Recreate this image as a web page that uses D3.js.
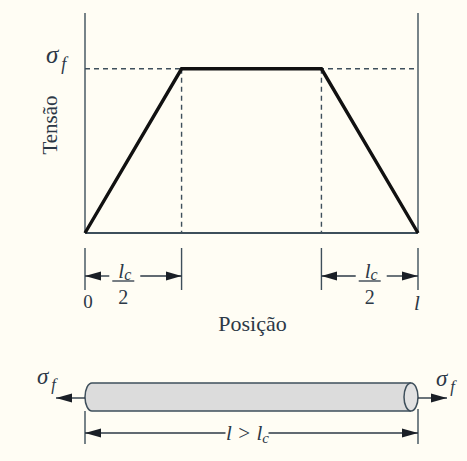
<!DOCTYPE html>
<html>
<head>
<meta charset="utf-8">
<script src="https://cdn.jsdelivr.net/npm/d3@7"></script>
<style>
  body { margin: 0; background: #fffdf4; }
  svg { display: block; }
</style>
</head>
<body>
<svg id="chart" width="467" height="461"></svg>
<script>
// stress profile along a fibre with l > lc (position as fraction of l)
const positions = [0, 0.29, 0.71, 1];
const stress = [0, 1, 1, 0];
const yMax = 1.34;
const endLabels = ["0", "l"];

const axisColor = "#3e4f5b";
const ink = "#2c3846";
const serif = "'Liberation Serif', 'Times New Roman', Times, 'DejaVu Serif', serif";

const svg = d3.select("#chart")
    .attr("font-family", serif)
    .attr("fill", ink);

const x = d3.scaleLinear().domain([0, 1]).range([85, 418]);
const y = d3.scaleLinear().domain([0, yMax]).range([233, 13]);

// arrow head
const defs = svg.append("defs");
defs.append("marker")
    .attr("id", "arrow")
    .attr("markerUnits", "userSpaceOnUse")
    .attr("viewBox", "0 -5 16 10")
    .attr("refX", 16).attr("refY", 0)
    .attr("markerWidth", 16).attr("markerHeight", 10)
    .attr("orient", "auto")
    .append("path")
    .attr("d", "M0,-4.5L16,0L0,4.5Z")
    .attr("fill", "#1a1f26");

// frame: two verticals + baseline
svg.append("line").attr("x1", x(0)).attr("x2", x(0)).attr("y1", y(yMax)).attr("y2", y(0))
    .attr("stroke", axisColor).attr("stroke-width", 1.4);
svg.append("line").attr("x1", x(1)).attr("x2", x(1)).attr("y1", y(yMax)).attr("y2", y(0))
    .attr("stroke", axisColor).attr("stroke-width", 1.4);
svg.append("line").attr("x1", x(0)).attr("x2", x(1)).attr("y1", y(0)).attr("y2", y(0))
    .attr("stroke", axisColor).attr("stroke-width", 2);

// dashed guides
svg.append("line").attr("x1", x(0)).attr("x2", x(1)).attr("y1", y(1)).attr("y2", y(1))
    .attr("stroke", axisColor).attr("stroke-width", 1.4).attr("stroke-dasharray", "5,4");
[positions[1], positions[2]].forEach(p => {
    svg.append("line").attr("x1", x(p)).attr("x2", x(p)).attr("y1", y(1)).attr("y2", y(0))
        .attr("stroke", axisColor).attr("stroke-width", 1.4).attr("stroke-dasharray", "5,4");
});

// the stress curve
const line = d3.line().x((d, i) => x(positions[i])).y(d => y(d));
svg.append("path")
    .attr("d", line(stress))
    .attr("fill", "none")
    .attr("stroke", "#111")
    .attr("stroke-width", 3.4)
    .attr("stroke-linejoin", "miter");

// sigma_f label
function sigmaF(xp, yp, size) {
    const t = svg.append("text").attr("x", xp).attr("y", yp)
        .attr("font-style", "italic").attr("font-size", size);
    t.append("tspan").text("σ");
    t.append("tspan").attr("dx", 3).attr("dy", size * 0.28).attr("font-size", size * 0.72).text("f");
}
sigmaF(46, 63, 25);

// y title
svg.append("text")
    .attr("transform", `translate(57,${(y(0) + y(yMax)) / 2 + 2}) rotate(-90)`)
    .attr("text-anchor", "middle")
    .attr("font-size", 21)
    .text("Tensão");

// dimension ticks and lc/2 arrows
const tickTop = 248, tickBot = 290, arrowY = 276;
positions.forEach(p => {
    svg.append("line").attr("x1", x(p)).attr("x2", x(p)).attr("y1", tickTop).attr("y2", tickBot)
        .attr("stroke", axisColor).attr("stroke-width", 1.4);
});

function lcHalf(a, b) {
    const cx = (x(a) + x(b)) / 2 + (a === 0 ? -10 : 0);
    svg.append("line").attr("x1", cx - 14).attr("x2", x(a)).attr("y1", arrowY).attr("y2", arrowY)
        .attr("stroke", ink).attr("stroke-width", 1.4).attr("marker-end", "url(#arrow)");
    svg.append("line").attr("x1", cx + 17).attr("x2", x(b)).attr("y1", arrowY).attr("y2", arrowY)
        .attr("stroke", ink).attr("stroke-width", 1.4).attr("marker-end", "url(#arrow)");
    const t = svg.append("text").attr("x", cx - 5).attr("y", 278)
        .attr("font-style", "italic").attr("font-size", 21);
    t.append("tspan").text("l");
    t.append("tspan").attr("dy", 2).attr("font-size", 16).text("c");
    svg.append("line").attr("x1", cx - 11).attr("x2", cx + 11).attr("y1", 281).attr("y2", 281)
        .attr("stroke", ink).attr("stroke-width", 1.3);
    svg.append("text").attr("x", cx).attr("y", 304).attr("text-anchor", "middle")
        .attr("font-size", 20).text("2");
}
lcHalf(positions[0], positions[1]);
lcHalf(positions[2], positions[3]);

// end labels 0 and l
svg.append("text").attr("x", x(0) + 3).attr("y", 308).attr("text-anchor", "middle")
    .attr("font-size", 19).text(endLabels[0]);
svg.append("text").attr("x", x(1) - 1).attr("y", 310).attr("text-anchor", "middle")
    .attr("font-style", "italic").attr("font-size", 21).text(endLabels[1]);

// x title
svg.append("text").attr("x", (x(0) + x(1)) / 2 + 1).attr("y", 331).attr("text-anchor", "middle")
    .attr("font-size", 22).text("Posição");

// fibre under tension
const cy = 397, ry = 14, rx = 7;
const fx0 = x(0), fx1 = x(1) - rx;
svg.append("path")
    .attr("d", `M${fx1},${cy - ry}H${fx0 + rx}A${rx},${ry} 0 0 0 ${fx0 + rx},${cy + ry}H${fx1}`)
    .attr("fill", "#dcdcdc").attr("stroke", axisColor).attr("stroke-width", 1.5);
svg.append("ellipse").attr("cx", fx1).attr("cy", cy).attr("rx", rx).attr("ry", ry)
    .attr("fill", "#e2e2e2").attr("stroke", axisColor).attr("stroke-width", 1.5);

svg.append("line").attr("x1", fx0).attr("x2", 56).attr("y1", cy + 1).attr("y2", cy + 1)
    .attr("stroke", ink).attr("stroke-width", 1.4).attr("marker-end", "url(#arrow)");
svg.append("line").attr("x1", fx1 + rx).attr("x2", 447).attr("y1", cy + 1).attr("y2", cy + 1)
    .attr("stroke", ink).attr("stroke-width", 1.4).attr("marker-end", "url(#arrow)");
sigmaF(37, 384, 23);
sigmaF(436, 386, 23);

// overall length dimension l > lc
const dimY = 433;
[0, 1].forEach(p => {
    svg.append("line").attr("x1", x(p)).attr("x2", x(p)).attr("y1", p === 0 ? cy + ry : cy + ry - 2).attr("y2", 444)
        .attr("stroke", axisColor).attr("stroke-width", 1.4);
});
const mid = (x(0) + x(1)) / 2;
svg.append("line").attr("x1", mid - 26).attr("x2", x(0)).attr("y1", dimY).attr("y2", dimY)
    .attr("stroke", ink).attr("stroke-width", 1.4).attr("marker-end", "url(#arrow)");
svg.append("line").attr("x1", mid + 17).attr("x2", x(1)).attr("y1", dimY).attr("y2", dimY)
    .attr("stroke", ink).attr("stroke-width", 1.4).attr("marker-end", "url(#arrow)");
const lt = svg.append("text").attr("x", mid - 4).attr("y", 440).attr("text-anchor", "middle")
    .attr("font-style", "italic").attr("font-size", 21);
lt.append("tspan").text("l > l");
lt.append("tspan").attr("dy", 3).attr("font-size", 15).text("c");
</script>
</body>
</html>
